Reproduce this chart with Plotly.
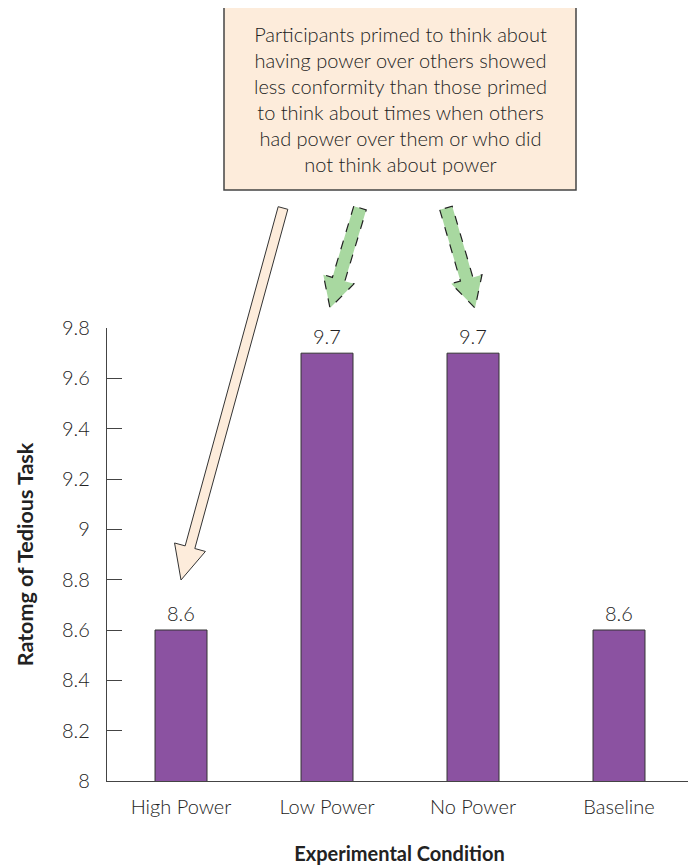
import plotly.graph_objects as go

categories = ["High Power", "Low Power", "No Power", "Baseline"]
ratings = [8.6, 9.7, 9.7, 8.6]
y_ticks = [8, 8.2, 8.4, 8.6, 8.8, 9, 9.2, 9.4, 9.6, 9.8]
y_tick_labels = ["8", "8.2", "8.4", "8.6", "8.8", "9", "9.2", "9.4", "9.6", "9.8"]
note = ("Participants primed to think about<br>having power over others showed<br>"
        "less conformity than those primed<br>to think about times when others<br>"
        "had power over them or who did<br>not think about power")

# page body has an 8px margin, so the figure is drawn 8px in from the corner
OFF = 8
W, H = 686, 857
L, R, T, B = 99, 2, 320, 84
FONT = "Lato"
TXT = "#222222"
LIGHT = dict(family=FONT, size=20, color=TXT, weight=300)


def paper(px, py):
    # px, py in screen pixels of the reference picture
    return (px - OFF - L) / (W - L - R), (H - B - (py - OFF)) / (H - T - B)


def arrow_path(tail, tip, shaft, head_w, head_l):
    (x0, y0), (x1, y1) = tail, tip
    dx, dy = x1 - x0, y1 - y0
    n = (dx * dx + dy * dy) ** 0.5
    ux, uy = dx / n, dy / n
    nx, ny = -uy, ux
    bx, by = x1 - ux * head_l, y1 - uy * head_l
    pts = [
        (x0 + nx * shaft / 2, y0 + ny * shaft / 2),
        (bx + nx * shaft / 2, by + ny * shaft / 2),
        (bx + nx * head_w / 2, by + ny * head_w / 2),
        (x1, y1),
        (bx - nx * head_w / 2, by - ny * head_w / 2),
        (bx - nx * shaft / 2, by - ny * shaft / 2),
        (x0 - nx * shaft / 2, y0 - ny * shaft / 2),
    ]
    pts = [paper(a, b) for a, b in pts]
    return "M " + " L ".join(f"{a:.5f},{b:.5f}" for a, b in pts) + " Z"


fig = go.Figure(go.Bar(
    x=categories, y=ratings, width=0.356,
    marker=dict(color="#8b52a1", line=dict(color="#333333", width=1)),
))

for c, v in zip(categories, ratings):
    fig.add_annotation(x=c, y=v, text=str(v), showarrow=False, yanchor="bottom",
                       yshift=3, font=LIGHT)

# callout box
bx0, by0 = paper(224, 7)
bx1, by1 = paper(576, 190)
fig.add_shape(type="rect", xref="paper", yref="paper", x0=bx0, y0=by1, x1=bx1, y1=by0,
              fillcolor="#fdecdb", line=dict(color="#444444", width=1.5), layer="above")
cx, cy = paper(400, 99)
fig.add_annotation(xref="paper", yref="paper", x=cx, y=cy, text=note, showarrow=False,
                   align="center", xanchor="center", yanchor="middle", font=LIGHT)

# arrows
fig.add_shape(type="path", xref="paper", yref="paper",
              path=arrow_path((283, 208), (181, 580), 10, 32, 34),
              fillcolor="#fdecdb", line=dict(color="#333333", width=1), layer="above")
for tail, tip in [((360, 208), (330, 308)), ((446, 208), (475, 308))]:
    fig.add_shape(type="path", xref="paper", yref="paper",
                  path=arrow_path(tail, tip, 13, 32, 30),
                  fillcolor="#a8d8a0", line=dict(color="#222222", width=1.2, dash="dash"),
                  layer="above")

fig.update_layout(
    width=W, height=H, margin=dict(l=L, r=R, t=T, b=B),
    paper_bgcolor="white", plot_bgcolor="white", showlegend=False,
    font=LIGHT,
    xaxis=dict(range=[-0.507, 3.5], showline=True, linecolor="#444444", linewidth=1.3,
               ticks="", showgrid=False, tickfont=LIGHT, ticklabelstandoff=8,
               title=dict(text="<b>Experimental Condition</b>", standoff=30,
                          font=dict(family=FONT, size=20, color="#222222"))),
    yaxis=dict(range=[8, 9.8], tickvals=y_ticks, ticktext=y_tick_labels,
               showline=True, linecolor="#444444", linewidth=1.3,
               ticks="inside", ticklen=15, tickcolor="#444444", tickwidth=1.3,
               showgrid=False, zeroline=False, tickfont=LIGHT, ticklabelstandoff=12,
               title=dict(text="<b>Ratomg of Tedious Task</b>", standoff=22,
                          font=dict(family=FONT, size=21.5, color="#222222"))),
)

fig.write_html("out.html")
